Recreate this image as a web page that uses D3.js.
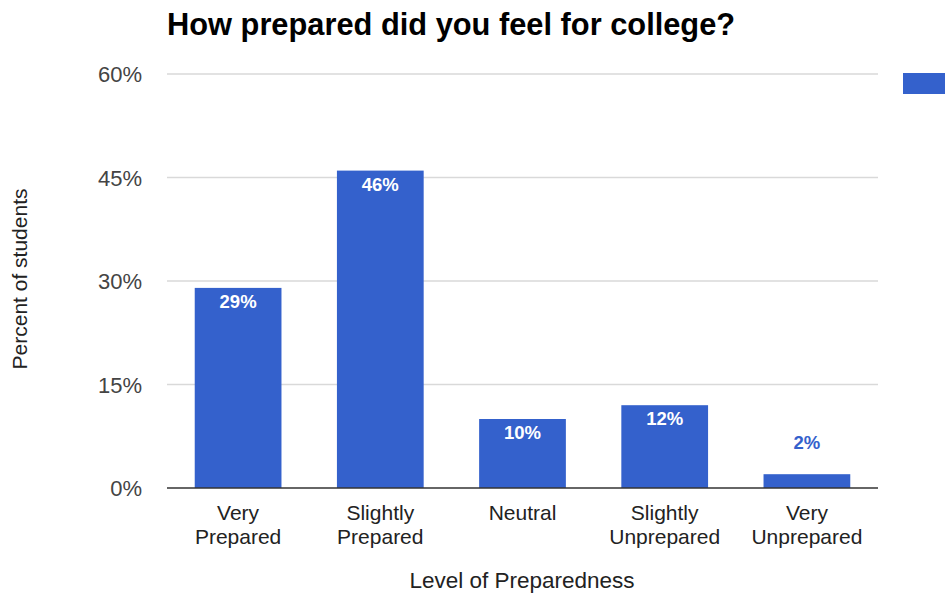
<meta charset="utf-8">
<html>
<script src="https://cdnjs.cloudflare.com/ajax/libs/d3/7.8.5/d3.min.js"></script>
<style>
body { margin: 0; background: #fff; font-family: "Liberation Sans", Arial, sans-serif; }
svg text { font-family: "Liberation Sans", Arial, sans-serif; }
</style>
<body>
<svg id="chart" width="945" height="594"></svg>
<script type="text/javascript">

// data
var categories = [["Very", "Prepared"], ["Slightly", "Prepared"], ["Neutral"], ["Slightly", "Unprepared"], ["Very", "Unprepared"]];
var values = [29, 46, 10, 12, 2];
var yTicks = [0, 15, 30, 45, 60];

var barColor = "#3461cc";

var svg = d3.select("#chart");
var plotL = 167, plotR = 878, plotT = 74, plotB = 488;

var x = d3.scaleBand()
	.domain(d3.range(values.length))
	.range([plotL, plotR])
	.paddingInner(0.39)
	.paddingOuter(0.195);

var y = d3.scaleLinear().domain([0, 60]).range([plotB, plotT]);

// title
svg.append("text")
	.attr("x", 167).attr("y", 35)
	.style("font-size", "30.8px").style("font-weight", "bold").style("fill", "#000")
	.text("How prepared did you feel for college?");

// gridlines
svg.append("g").selectAll("line")
	.data(yTicks.filter(function(d) { return d > 0; }))
	.enter().append("line")
	.attr("x1", plotL).attr("x2", plotR)
	.attr("y1", function(d) { return y(d); })
	.attr("y2", function(d) { return y(d); })
	.style("stroke", "#d9d9d9").style("stroke-width", 1.5);

// y tick labels
svg.append("g").selectAll("text")
	.data(yTicks)
	.enter().append("text")
	.attr("x", 142)
	.attr("y", function(d) { return y(d) + 8; })
	.attr("text-anchor", "end")
	.style("font-size", "22px").style("fill", "#444")
	.text(function(d) { return d + "%"; });

// bars
svg.append("g").selectAll("rect")
	.data(values)
	.enter().append("rect")
	.attr("x", function(d, i) { return x(i); })
	.attr("width", x.bandwidth())
	.attr("y", function(d) { return y(d); })
	.attr("height", function(d) { return plotB - y(d); })
	.style("fill", barColor);

// value labels
svg.append("g").selectAll("text")
	.data(values)
	.enter().append("text")
	.attr("x", function(d, i) { return x(i) + x.bandwidth() / 2; })
	.attr("y", function(d) { return d > 5 ? y(d) + 20 : y(d) - 25; })
	.attr("text-anchor", "middle")
	.style("font-size", "18.5px").style("font-weight", "bold")
	.style("fill", function(d) { return d > 5 ? "#fff" : barColor; })
	.text(function(d) { return d + "%"; });

// baseline
svg.append("line")
	.attr("x1", plotL).attr("x2", plotR)
	.attr("y1", plotB).attr("y2", plotB)
	.style("stroke", "#333").style("stroke-width", 1.5);

// category labels
var cat = svg.append("g").selectAll("text")
	.data(categories)
	.enter().append("text")
	.attr("text-anchor", "middle")
	.style("font-size", "21px").style("fill", "#222");
cat.selectAll("tspan")
	.data(function(d, i) { return d.map(function(s) { return [s, i]; }); })
	.enter().append("tspan")
	.attr("x", function(d) { return x(d[1]) + x.bandwidth() / 2; })
	.attr("y", function(d, j) { return 520 + j * 24; })
	.text(function(d) { return d[0]; });

// axis titles
svg.append("text")
	.attr("x", 522).attr("y", 588)
	.attr("text-anchor", "middle")
	.style("font-size", "22.5px").style("fill", "#222")
	.text("Level of Preparedness");

svg.append("text")
	.attr("transform", "translate(27,279) rotate(-90)")
	.attr("text-anchor", "middle")
	.style("font-size", "21px").style("fill", "#222")
	.text("Percent of students");

// legend swatch (clipped at the right edge)
svg.append("rect")
	.attr("x", 903).attr("y", 73).attr("width", 50).attr("height", 21)
	.style("fill", barColor);

</script>
</body>
</html>
